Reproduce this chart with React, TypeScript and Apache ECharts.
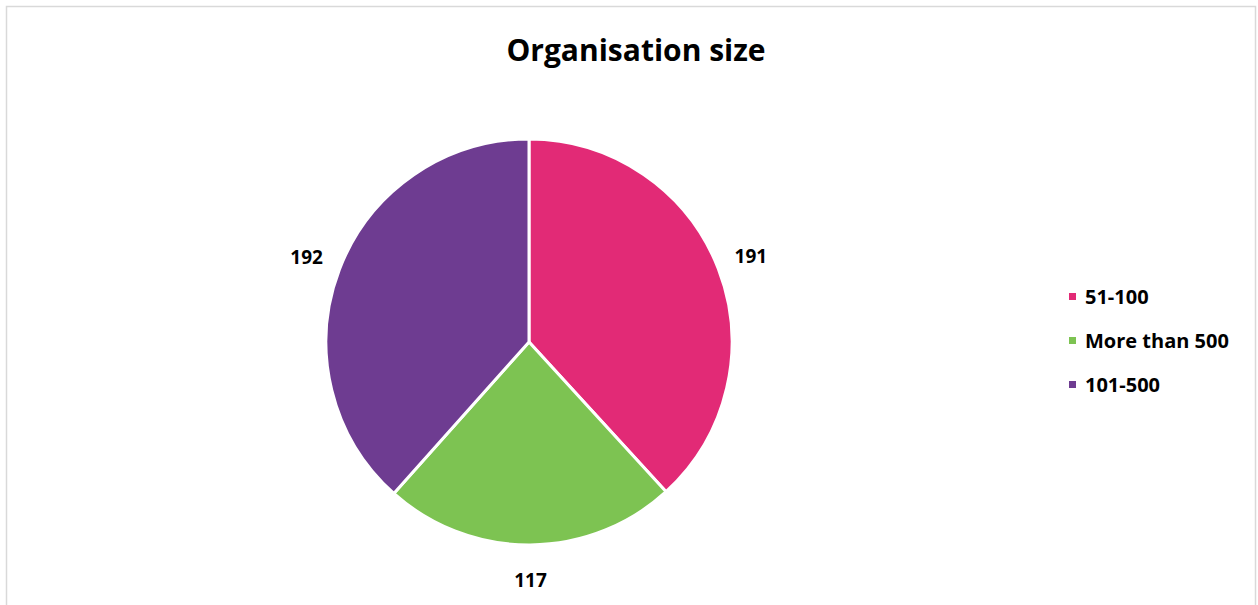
import React, { useEffect, useRef } from "react";
import * as echarts from "echarts";

const categories = ["51-100", "More than 500", "101-500"];
const values = [191, 117, 192];
const colors = ["#E22A76", "#7DC352", "#6E3C91"];
const titleText = "Organisation size";

export default function App() {
  const ref = useRef<HTMLDivElement>(null);
  useEffect(() => {
    if (!ref.current) return;
    const chart = echarts.init(ref.current, null, { renderer: "svg" });
    const data = categories.map((name, i) => ({
      name,
      value: values[i],
      itemStyle: { color: colors[i] },
    }));
    const font = "'Open Sans', sans-serif";
    chart.setOption({
      animation: false,
      backgroundColor: "#ffffff",
      title: {
        text: titleText,
        left: 631,
        textAlign: "center",
        top: 29,
        textStyle: {
          fontFamily: font,
          fontWeight: "bold",
          fontSize: 30,
          color: "#000000",
        },
      },
      legend: {
        orient: "vertical",
        left: 1062,
        top: 280,
        itemWidth: 9,
        itemHeight: 9,
        itemGap: 21,
        icon: "rect",
        data: categories,
        textStyle: {
          fontFamily: font,
          fontWeight: "bold",
          fontSize: 20,
          lineHeight: 23,
          color: "#000000",
          padding: [0, 0, 0, 3],
        },
      },
      graphic: [
        {
          type: "rect",
          shape: { x: 6.5, y: 6.5, width: 1249, height: 640 },
          style: { fill: "none", stroke: "#d9d9d9", lineWidth: 1.5 },
          silent: true,
        },
      ],
      series: [
        {
          type: "pie",
          center: [529, 342],
          radius: [0, 203],
          startAngle: 90,
          clockwise: true,
          data,
          label: { show: false },
          labelLine: { show: false },
          itemStyle: { borderColor: "#ffffff", borderWidth: 3 },
          emphasis: { disabled: true },
          silent: true,
        },
        {
          type: "pie",
          center: [529, 342],
          radius: [227, 243],
          startAngle: 90,
          clockwise: true,
          data: categories.map((name, i) => ({ name, value: values[i] })),
          itemStyle: { color: "rgba(0,0,0,0)" },
          label: {
            show: true,
            position: "inside",
            formatter: "{c}",
            fontFamily: font,
            fontWeight: "bold",
            fontSize: 19,
            color: "#000000",
          },
          labelLine: { show: false },
          emphasis: { disabled: true },
          silent: true,
        },
      ],
    });
    return () => chart.dispose();
  }, []);
  return (
    <div
      ref={ref}
      style={{ position: "fixed", left: 0, top: 0, width: 1258, height: 605 }}
    />
  );
}
